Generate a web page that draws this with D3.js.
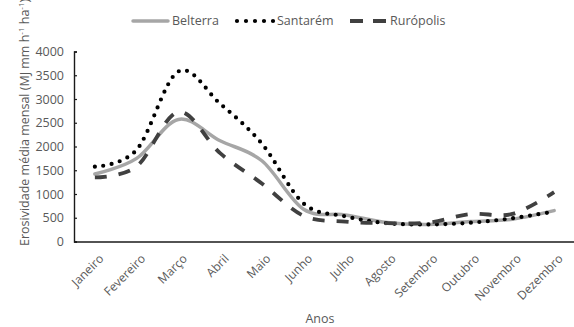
<!DOCTYPE html>
<html><head><meta charset="utf-8">
<script src="https://cdn.jsdelivr.net/npm/d3@7"></script>
<style>html,body{margin:0;padding:0;background:#fff;}svg{display:block;}</style>
</head><body>
<script>
const months = ["Janeiro","Fevereiro","Março","Abril","Maio","Junho","Julho","Agosto","Setembro","Outubro","Novembro","Dezembro"];
const belterra = [1420, 1750, 2570, 2120, 1700, 680, 560, 400, 360, 420, 470, 650];
const santarem = [1575, 1930, 3580, 2900, 2060, 800, 530, 385, 360, 395, 490, 630];
const ruropolis = [1350, 1580, 2730, 1860, 1220, 540, 420, 385, 400, 580, 580, 1040];
const yTicks = [0, 500, 1000, 1500, 2000, 2500, 3000, 3500, 4000];
const seriesNames = ["Belterra", "Santarém", "Rurópolis"];

const W = 574, H = 327;
const FONT = "'Open Sans', sans-serif";
const TXT = "#595959";
const svg = d3.select("body").append("svg").attr("width", W).attr("height", H)
  .style("font-family", FONT);

const x = d3.scalePoint().domain(months).range([74, 575]).padding(0.5);
const y = d3.scaleLinear().domain([0, 4000]).range([241.5, 51.5]);

// y axis
const ya = svg.append("g").attr("transform", "translate(74,0)")
  .call(d3.axisLeft(y).tickValues(yTicks).tickSize(-3).tickPadding(10).tickFormat(d3.format("d")));
ya.select(".domain").attr("stroke", "#1a1a1a").attr("stroke-width", 1.4);
ya.selectAll(".tick line").attr("stroke", "#1a1a1a").attr("stroke-width", 1.2);
ya.selectAll(".tick text").attr("fill", TXT).style("font-size", "12.5px").style("font-family", FONT);

// x axis
const xa = svg.append("g").attr("transform", "translate(0,241.5)")
  .call(d3.axisBottom(x).tickSize(0).tickSizeOuter(0).tickPadding(0));
xa.select(".domain").attr("stroke", "#1a1a1a").attr("stroke-width", 1.4);
xa.selectAll(".tick text")
  .attr("fill", TXT).style("font-size", "12px").style("font-family", FONT)
  .attr("text-anchor", "end")
  .attr("dy", "0.35em").attr("y", 0)
  .attr("transform", "translate(6,15) rotate(-45)");

// axis titles
svg.append("text").attr("x", 320).attr("y", 323).attr("text-anchor", "middle")
  .attr("fill", TXT).style("font-size", "12.5px").text("Anos");

const yt = svg.append("text").attr("transform", "translate(29,246) rotate(-90)")
  .attr("text-anchor", "start").attr("fill", TXT).style("font-size", "12.5px");
yt.append("tspan").text("Erosividade média mensal (MJ mm h");
yt.append("tspan").attr("dy", -5).style("font-size", "8px").text("-1");
yt.append("tspan").attr("dy", 5).text(" ha");
yt.append("tspan").attr("dy", -5).style("font-size", "8px").text("-1");
yt.append("tspan").attr("dy", 5).text(")");

// lines
const line = d3.line().x((d, i) => x(months[i])).y(d => y(d)).curve(d3.curveCardinal.tension(0));
const styles = [
  {data: belterra, stroke: "#a6a6a6", dash: null, cap: "round", w: 3.5},
  {data: santarem, stroke: "#000000", dash: "0 8.5", cap: "round", w: 4.2},
  {data: ruropolis, stroke: "#404040", dash: "12 12", cap: "butt", w: 3.8}
];
styles.forEach(s => {
  svg.append("path").datum(s.data).attr("d", line)
    .attr("fill", "none").attr("stroke", s.stroke).attr("stroke-width", s.w)
    .attr("stroke-linecap", s.cap).attr("stroke-dasharray", s.dash);
});

// legend
const leg = [
  {x0: 133, x1: 168, tx: 172},
  {x0: 237, x1: 274, tx: 277},
  {x0: 350, x1: 387, tx: 390}
];
const ly = 21;
leg.forEach((l, i) => {
  const s = styles[i];
  svg.append("line").attr("x1", l.x0).attr("x2", l.x1).attr("y1", ly).attr("y2", ly)
    .attr("stroke", s.stroke).attr("stroke-width", s.w)
    .attr("stroke-linecap", s.cap)
    .attr("stroke-dasharray", i === 1 ? "0 9" : (i === 2 ? "13 10" : null));
  svg.append("text").attr("x", l.tx).attr("y", ly).attr("dy", "0.35em")
    .attr("fill", TXT).style("font-size", "12.5px").text(seriesNames[i]);
});
</script>
</body></html>
